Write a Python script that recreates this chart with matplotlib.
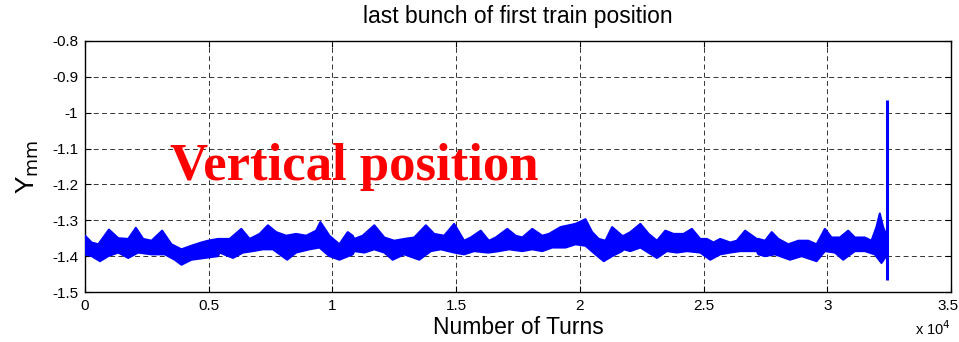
import matplotlib
matplotlib.use("Agg")
import matplotlib.pyplot as plt
import matplotlib.transforms as mtransforms

# ---- data ----
# upper edge of the noisy position band
up_turns = [0, 269, 538, 968, 1344, 1747, 2056, 2352, 2688, 3118, 3494, 3898, 4301, 4704, 4973, 5376,
            5443, 5846, 6317, 6653, 7056, 7392, 7728, 8131, 8534, 8937, 9341, 9515, 9878, 10281, 10617, 10819,
            10887, 11223, 11693, 12097, 12500, 12903, 13306, 13777, 14113, 14516, 14919, 15322, 15591, 15994, 16263,
            16330, 16599, 17069, 17405, 17674, 18077, 18480, 18749, 19220, 19556, 19824, 20228, 20496, 20765, 21034, 21303, 21706,
            21773, 22042, 22445, 22781, 23117, 23453, 23789, 24192, 24528, 24864, 25133, 25402, 25671, 26074, 26343, 26679, 27149,
            27216, 27485, 27754, 28022, 28426, 28829, 29232, 29568, 29904, 30173, 30509, 30845, 31114, 31517, 31786, 31987, 32122, 32256, 32380]
up_mm = [-1.343, -1.362, -1.367, -1.326, -1.350, -1.352, -1.321, -1.352, -1.357, -1.329, -1.367, -1.381, -1.371, -1.362, -1.357, -1.352,
         -1.352, -1.352, -1.324, -1.352, -1.338, -1.314, -1.333, -1.343, -1.338, -1.343, -1.329, -1.305, -1.343, -1.367, -1.333, -1.343,
         -1.352, -1.343, -1.314, -1.348, -1.357, -1.352, -1.348, -1.314, -1.338, -1.343, -1.310, -1.357, -1.348, -1.329, -1.352,
         -1.357, -1.348, -1.324, -1.343, -1.348, -1.324, -1.343, -1.338, -1.319, -1.314, -1.310, -1.297, -1.333, -1.352, -1.357, -1.319, -1.343,
         -1.343, -1.333, -1.310, -1.338, -1.357, -1.329, -1.338, -1.338, -1.324, -1.352, -1.352, -1.362, -1.352, -1.362, -1.357, -1.329, -1.352,
         -1.352, -1.357, -1.333, -1.352, -1.367, -1.357, -1.357, -1.367, -1.324, -1.348, -1.348, -1.329, -1.348, -1.348, -1.357, -1.319, -1.281, -1.319, -1.340]
# lower edge of the band
lo_turns = [0, 269, 605, 941, 1344, 1747, 2150, 2688, 3226, 3629, 3898, 4301, 4838, 5376,
            5443, 5981, 6384, 6787, 7190, 7594, 8171, 8534, 9072, 9475, 9878, 10281, 10819,
            10887, 11290, 11693, 12097, 12433, 12903, 13508, 13978, 14381, 14919, 15322, 15725, 16263,
            16330, 16733, 17136, 17674, 18077, 18480, 18884, 19421, 19824, 20228, 20631, 20967, 21303, 21706,
            21773, 22042, 22445, 23117, 23520, 23923, 24327, 24864, 25267, 25671, 26074, 26477, 27149,
            27216, 27485, 27888, 28493, 28963, 29568, 29904, 30307, 30643, 31114, 31517, 31920, 32189, 32380]
lo_mm = [-1.395, -1.400, -1.414, -1.400, -1.390, -1.405, -1.390, -1.395, -1.395, -1.410, -1.424, -1.410, -1.405, -1.400,
         -1.390, -1.405, -1.390, -1.386, -1.381, -1.381, -1.410, -1.390, -1.381, -1.376, -1.400, -1.410, -1.395,
         -1.386, -1.390, -1.381, -1.390, -1.410, -1.395, -1.410, -1.386, -1.381, -1.390, -1.395, -1.386, -1.390,
         -1.390, -1.386, -1.381, -1.386, -1.381, -1.386, -1.376, -1.376, -1.367, -1.371, -1.395, -1.414, -1.400, -1.386,
         -1.381, -1.386, -1.376, -1.405, -1.386, -1.390, -1.386, -1.390, -1.410, -1.395, -1.390, -1.386, -1.386,
         -1.395, -1.400, -1.395, -1.410, -1.400, -1.414, -1.386, -1.390, -1.410, -1.386, -1.386, -1.395, -1.419, -1.400]
# final spike
spike_turn = 32400
spike_min, spike_max = -1.466, -0.964

x_ticks = [0, 5000, 10000, 15000, 20000, 25000, 30000, 35000]
x_ticklabels = ["0", "0.5", "1", "1.5", "2", "2.5", "3", "3.5"]
y_ticks = [-0.8, -0.9, -1.0, -1.1, -1.2, -1.3, -1.4, -1.5]
y_ticklabels = ["-0.8", "-0.9", "-1", "-1.1", "-1.2", "-1.3", "-1.4", "-1.5"]

# ---- figure ----
plt.rcParams['font.family'] = ['Liberation Sans', 'DejaVu Sans']
fig = plt.figure(figsize=(9.59, 3.42), dpi=100)
ax = fig.add_axes([85/959, 1-292/342, 866/959, 251/342])

blue = (0, 0, 1)
ax.fill(up_turns + lo_turns[::-1], up_mm + lo_mm[::-1], color=blue, lw=0, zorder=3)
ax.plot(up_turns, up_mm, color=blue, lw=1.5, zorder=3)
ax.plot(lo_turns, lo_mm, color=blue, lw=1.5, zorder=3)
ax.vlines([spike_turn], [spike_min], [spike_max], color=blue, lw=2.2, zorder=3)

ax.set_xlim(0, 35000)
ax.set_ylim(-1.5, -0.8)
ax.set_xticks(x_ticks)
ax.set_xticklabels(x_ticklabels)
ax.set_yticks(y_ticks)
ax.set_yticklabels(y_ticklabels)
ax.tick_params(direction='in', length=4, top=True, right=True, labelsize=11, width=0.8, pad=5)
ax.grid(True, color='black', linestyle=(0, (5, 3.5)), lw=0.7, alpha=0.8)
for s in ax.spines.values():
    s.set_linewidth(1.0)
    s.set_color('black')

# keep the last x tick label inside the picture edge
last_lbl = ax.get_xticklabels()[-1]
last_lbl.set_transform(last_lbl.get_transform() +
                       mtransforms.ScaledTranslation(-3/100, 0, fig.dpi_scale_trans))

fig.text(518/959, 1-17/342, "last bunch of first train position", fontsize=16.5,
         ha='center', va='center')
ax.set_xlabel("Number of Turns", fontsize=16.5)
ax.xaxis.set_label_coords(0.5, (292-328)/251)
ax.xaxis.label.set_va('center')
ax.set_ylabel(r"Y$_{\rm mm}$", fontsize=19)
ax.yaxis.set_label_coords((28-85)/866, 0.5)
ax.yaxis.label.set_va('center')

fig.text(915/959, 1-329/342, r"x 10$^{4}$", fontsize=10.5, ha='left', va='center')

ax.text(0.098, 0.446, "Vertical position", transform=ax.transAxes,
        fontsize=38, fontweight='bold', color='red', family='Liberation Serif',
        va='baseline', ha='left', zorder=4)

fig.savefig("out.png", dpi=100)
